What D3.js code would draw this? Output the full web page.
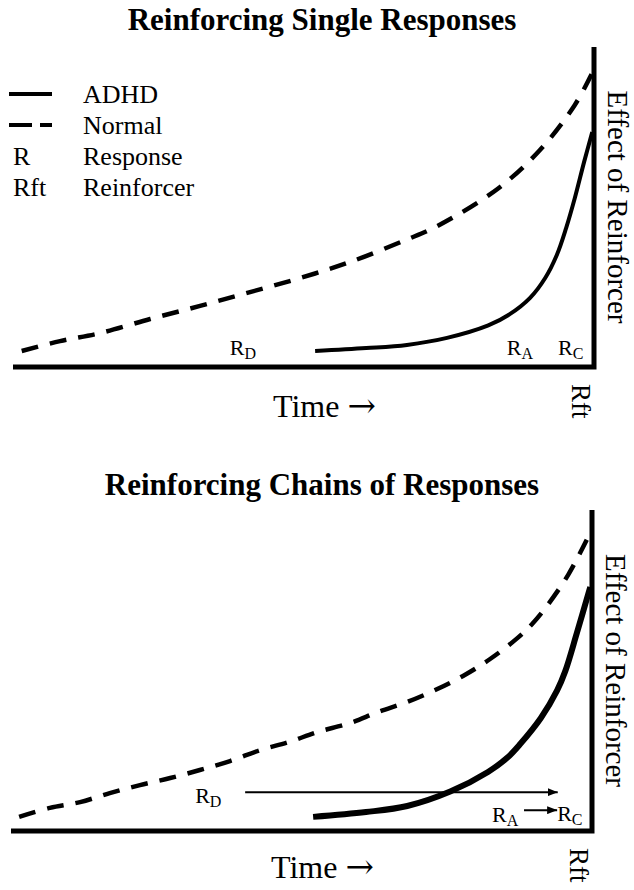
<!DOCTYPE html>
<html>
<head>
<meta charset="utf-8">
<script src="https://cdn.jsdelivr.net/npm/d3@7"></script>
<style>
  body { margin: 0; background: #fff; }
</style>
</head>
<body>
<div id="chart"></div>
<script>
// values: [time, effect of reinforcer], both 0..100
var singleNormal = [[1.5, 5.0], [8.1, 8.1], [15.0, 10.6], [23.6, 15.0], [32.2, 19.1], [40.8, 23.4],
  [49.4, 27.8], [58.0, 32.8], [67.6, 39.7], [73.0, 44.0], [83.5, 55.8], [90.7, 67.8], [96.7, 81.9], [99.7, 91.9]];
var singleADHD = [[52.0, 5.0], [60.8, 5.9], [67.8, 6.9], [74.7, 9.1], [81.8, 13.0], [85.5, 16.5],
  [89.0, 21.6], [91.6, 27.8], [93.6, 35.0], [95.2, 43.4], [96.7, 52.8], [98.3, 64.1], [99.7, 73.4]];

var chainNormal = [[1.4, 4.4], [6.7, 7.2], [11.9, 9.0], [17.0, 11.8], [22.2, 14.3], [27.4, 16.5], [32.5, 19.0],
  [37.7, 21.8], [42.9, 25.2], [47.8, 27.7], [52.7, 30.8], [58.3, 33.6], [63.2, 37.1], [68.2, 40.2],
  [73.0, 43.9], [77.8, 48.3], [82.4, 53.5], [87.1, 60.0], [89.7, 64.5], [92.4, 70.5], [95.9, 79.8], [99.1, 90.7]];
var chainADHD = [[52.0, 4.4], [61.1, 5.9], [68.2, 7.8], [75.6, 12.3], [82.1, 18.4], [85.4, 22.8],
  [87.6, 27.0], [91.2, 35.2], [94.0, 43.8], [95.4, 49.8], [97.4, 61.7], [99.7, 76.0]];

// response labels: letter subscript, time, height
var singleLabels = [["D", 37.3, 3.8], ["A", 85.0, 3.8], ["C", 93.8, 3.8]];
var chainLabels = [["D", 31.7, 8.7], ["A", 82.8, 2.8], ["C", 94.0, 3.1]];
// chained responses: [from time, to time, height]
var chainArrows = [[40.3, 94.1, 12.1], [88.3, 94.0, 6.5]];

var titles = ["Reinforcing Single Responses", "Reinforcing Chains of Responses"];
var legendItems = [["solid", "ADHD"], ["dashed", "Normal"], ["R", "Response"], ["Rft", "Reinforcer"]];

var serif = "'Liberation Serif', 'Times New Roman', Times, serif";
var width = 634, height = 890;

var svg = d3.select("#chart")
  .append("svg")
  .attr("width", width)
  .attr("height", height)
  .attr("font-family", serif);

svg.append("defs").append("marker")
  .attr("id", "head")
  .attr("viewBox", "0 0 10 8")
  .attr("refX", 10)
  .attr("refY", 4)
  .attr("markerWidth", 10)
  .attr("markerHeight", 8)
  .attr("markerUnits", "userSpaceOnUse")
  .attr("orient", "auto")
  .append("path")
  .attr("d", "M0,0 L10,4 L0,8 Z")
  .attr("fill", "#000");

function drawPanel(p) {
  var x = d3.scaleLinear().domain([0, 100]).range(p.xRange);
  var y = d3.scaleLinear().domain([0, 100]).range(p.yRange);
  var g = svg.append("g");

  g.append("text")
    .attr("x", 322)
    .attr("y", p.titleY)
    .attr("text-anchor", "middle")
    .attr("font-size", 31)
    .attr("font-weight", "bold")
    .text(p.title);

  // L shaped axes
  g.append("path")
    .attr("d", "M" + x(0) + "," + y(0) + "H" + x(100) + "V" + y(100))
    .attr("fill", "none")
    .attr("stroke", "#000")
    .attr("stroke-width", 5)
    .attr("stroke-linejoin", "miter");

  var line = d3.line()
    .x(function(d) { return x(d[0]); })
    .y(function(d) { return y(d[1]); })
    .curve(d3.curveCatmullRom.alpha(0.5));

  g.append("path")
    .attr("d", line(p.normal))
    .attr("fill", "none")
    .attr("stroke", "#000")
    .attr("stroke-width", 4.5)
    .attr("stroke-dasharray", "17,12");

  g.append("path")
    .attr("d", line(p.adhd))
    .attr("fill", "none")
    .attr("stroke", "#000")
    .attr("stroke-width", p.adhdWidth);

  (p.arrows || []).forEach(function(a) {
    g.append("line")
      .attr("x1", x(a[0])).attr("x2", x(a[1]))
      .attr("y1", y(a[2])).attr("y2", y(a[2]))
      .attr("stroke", "#000")
      .attr("stroke-width", 2)
      .attr("marker-end", "url(#head)");
  });

  p.labels.forEach(function(l) {
    var t = g.append("text")
      .attr("x", x(l[1]))
      .attr("y", y(l[2]))
      .attr("font-size", 22)
      .text("R");
    t.append("tspan")
      .attr("dy", 4)
      .attr("font-size", 16)
      .text(l[0]);
  });

  var time = g.append("text")
    .attr("x", x(0) + 260)
    .attr("y", y(0) + p.timeDy)
    .attr("font-size", 32)
    .text("Time ");
  time.append("tspan")
    .attr("font-family", "'DejaVu Serif', serif")
    .attr("font-size", 34)
    .text("\u2192");

  g.append("text")
    .attr("transform", "translate(" + (x(100) - 22) + "," + (y(0) + 17) + ") rotate(90)")
    .attr("font-size", 27)
    .text("Rft");

  g.append("text")
    .attr("transform", "translate(" + (x(100) + 14) + "," + ((y(0) + y(100)) / 2) + ") rotate(90)")
    .attr("text-anchor", "middle")
    .attr("font-size", 29)
    .text("Effect of Reinforcer");
}

drawPanel({
  title: titles[0], titleY: 30,
  xRange: [13, 594], yRange: [367, 47],
  normal: singleNormal, adhd: singleADHD, adhdWidth: 4,
  labels: singleLabels, timeDy: 50
});

drawPanel({
  title: titles[1], titleY: 495,
  xRange: [11, 592], yRange: [831, 510],
  normal: chainNormal, adhd: chainADHD, adhdWidth: 6,
  labels: chainLabels, arrows: chainArrows, timeDy: 47
});

// legend (top panel only)
var legend = svg.append("g");
legendItems.forEach(function(d, i) {
  var by = 103 + i * 31;
  if (d[0] === "solid" || d[0] === "dashed") {
    legend.append("line")
      .attr("x1", 9).attr("x2", 52)
      .attr("y1", by - 9).attr("y2", by - 9)
      .attr("stroke", "#000")
      .attr("stroke-width", 4)
      .attr("stroke-dasharray", d[0] === "dashed" ? "23,8" : null);
  } else {
    legend.append("text")
      .attr("x", 13).attr("y", by)
      .attr("font-size", 26)
      .text(d[0]);
  }
  legend.append("text")
    .attr("x", 83).attr("y", by)
    .attr("font-size", 26)
    .text(d[1]);
});
</script>
</body>
</html>
